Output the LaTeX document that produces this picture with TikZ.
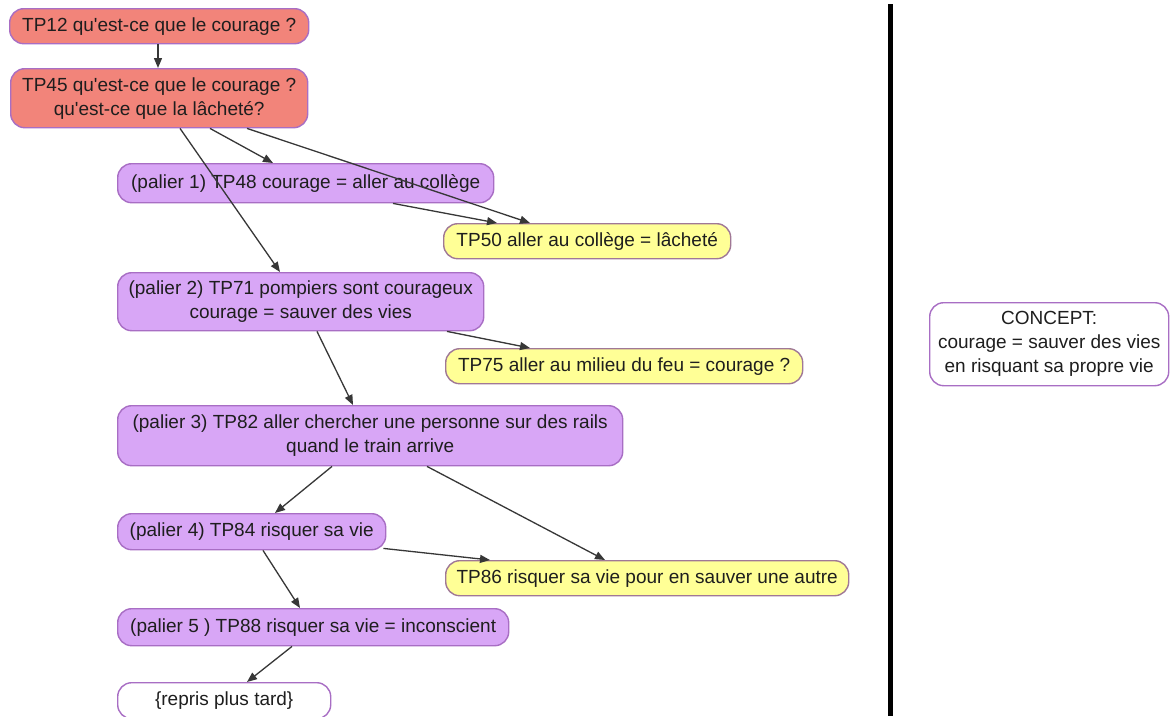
\documentclass[tikz,border=0pt]{standalone}
\usepackage{fontspec}
\setmainfont{Liberation Sans}[Ligatures=TeXOff]
\usetikzlibrary{arrows.meta}
\definecolor{redfill}{RGB}{242,132,122}
\definecolor{purplefill}{RGB}{216,166,246}
\definecolor{yellowfill}{RGB}{255,255,150}
\definecolor{edgepurple}{RGB}{168,110,196}
\definecolor{edgeyellow}{RGB}{160,120,150}
\definecolor{arrowgray}{RGB}{55,55,55}
\definecolor{textgray}{RGB}{30,30,30}
\tikzset{
  box/.style={draw=edgepurple, line width=1.4pt, rounded corners=14pt, anchor=north west,
    inner xsep=8pt, inner ysep=2pt, align=center, text=textgray,
    font=\fontsize{19}{24}\selectfont},
  redbox/.style={box, fill=redfill},
  purplebox/.style={box, fill=purplefill},
  yellowbox/.style={box, fill=yellowfill, draw=edgeyellow},
  whitebox/.style={box, fill=white},
  link/.style={draw=arrowgray, line width=1.3pt, -{Triangle[length=10pt,width=8pt]}},
}
\begin{document}
\begin{tikzpicture}[x=1pt,y=-1pt]
\useasboundingbox (0,0) rectangle (1171,716);
\fill[white] (0,0) rectangle (1171,716);
% nodes
\node[redbox, minimum width=299pt, minimum height=35pt] (tp12) at (9,8) {TP12 qu'est-ce que le courage ?};
\node[redbox, minimum width=297pt, minimum height=59pt] (tp45) at (10,68) {TP45 qu'est-ce que le courage ?\\qu'est-ce que la lâcheté?};
\node[purplebox, minimum width=376pt, minimum height=39pt] (tp48) at (117,163) {(palier 1) TP48 courage = aller au collège};
\node[yellowbox, minimum width=287pt, minimum height=35pt] (tp50) at (443,223) {TP50 aller au collège = lâcheté};
\node[purplebox, minimum width=366pt, minimum height=58pt] (tp71) at (117,272) {(palier 2) TP71 pompiers sont courageux\\courage = sauver des vies};
\node[yellowbox, minimum width=357pt, minimum height=35pt] (tp75) at (445,348) {TP75 aller au milieu du feu = courage ?};
\node[purplebox, minimum width=505pt, minimum height=60pt] (tp82) at (117,405) {(palier 3) TP82 aller chercher une personne sur des rails\\quand le train arrive};
\node[purplebox, minimum width=268pt, minimum height=36pt] (tp84) at (117,513) {(palier 4) TP84 risquer sa vie};
\node[yellowbox, minimum width=403pt, minimum height=35pt] (tp86) at (445,560) {TP86 risquer sa vie pour en sauver une autre};
\node[purplebox, minimum width=391pt, minimum height=37pt] (tp88) at (117,608) {(palier 5 ) TP88 risquer sa vie = inconscient};
\node[whitebox, minimum width=213pt, minimum height=36pt] (repris) at (117,682) {\{repris plus tard\}};
\node[whitebox, minimum width=239pt, minimum height=83pt] (concept) at (929,302) {CONCEPT:\\courage = sauver des vies\\en risquant sa propre vie};
% separator
\coordinate (septop) at (890,4);
\coordinate (sepbot) at (890,716);
\draw[line width=5pt, black] (septop) -- (sepbot);
% connectors
\draw[link] ([xshift=149pt]tp12.south west) -- ([xshift=148pt]tp45.north west);
\draw[link] ([xshift=170pt]tp45.south west) -- ([xshift=163pt]tp71.north west);
\draw[link] ([xshift=200pt]tp45.south west) -- ([xshift=156pt]tp48.north west);
\draw[link] ([xshift=237pt]tp45.south west) -- ([xshift=87pt]tp50.north west);
\draw[link] ([xshift=276pt]tp48.south west) -- ([xshift=54pt]tp50.north west);
\draw[link] ([xshift=330pt]tp71.south west) -- ([xshift=85pt]tp75.north west);
\draw[link] ([xshift=200pt]tp71.south west) -- ([xshift=236pt]tp82.north west);
\draw[link] ([xshift=215pt]tp82.south west) -- ([xshift=158pt]tp84.north west);
\draw[link] ([xshift=310pt]tp82.south west) -- ([xshift=160pt]tp86.north west);
\draw[link] ([xshift=-3pt,yshift=2pt]tp84.south east) -- ([xshift=45pt]tp86.north west);
\draw[link] ([xshift=146pt]tp84.south west) -- ([xshift=183pt]tp88.north west);
\draw[link] ([xshift=175pt]tp88.south west) -- ([xshift=130pt]repris.north west);
\end{tikzpicture}
\end{document}
